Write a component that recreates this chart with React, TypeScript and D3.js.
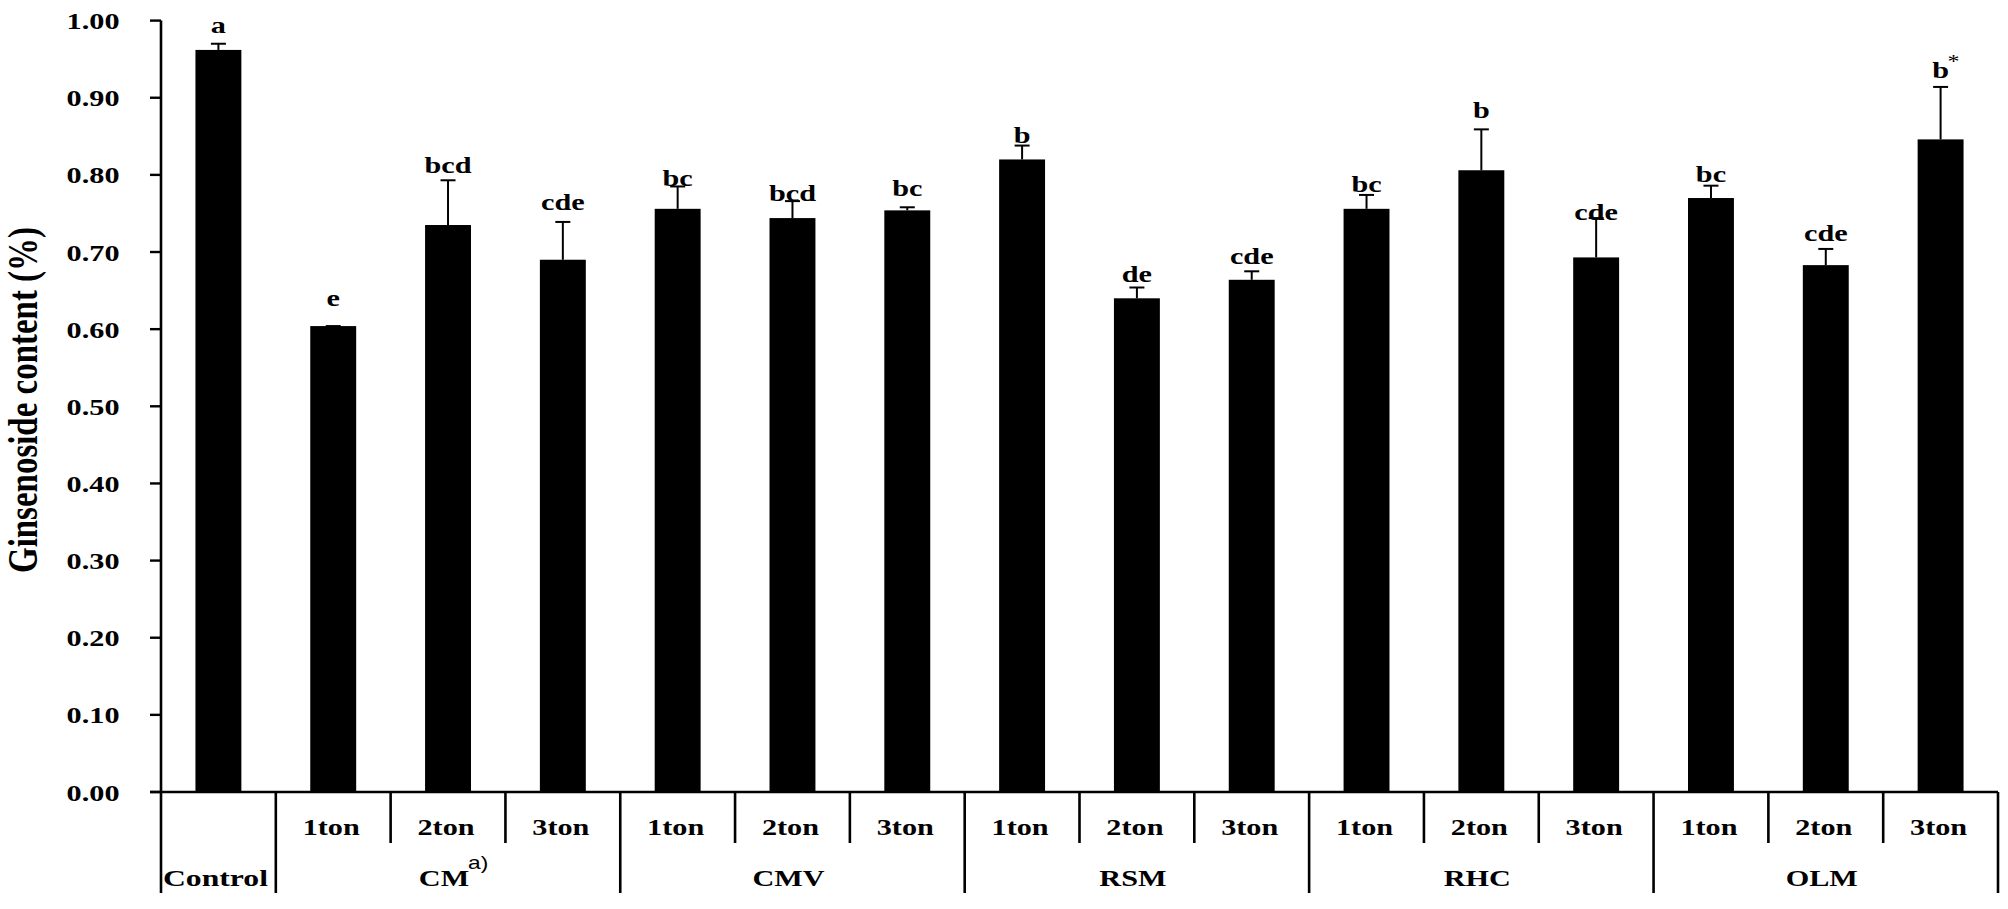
import React from "react";
import * as d3 from "d3";

// ---- data ----
const treatments = ["Control", "CM", "CM", "CM", "CMV", "CMV", "CMV", "RSM", "RSM", "RSM", "RHC", "RHC", "RHC", "OLM", "OLM", "OLM"];
const doses = ["", "1ton", "2ton", "3ton", "1ton", "2ton", "3ton", "1ton", "2ton", "3ton", "1ton", "2ton", "3ton", "1ton", "2ton", "3ton"];
const means = [0.962, 0.604, 0.735, 0.690, 0.756, 0.744, 0.754, 0.820, 0.640, 0.664, 0.756, 0.806, 0.693, 0.770, 0.683, 0.846];
const errors = [0.008, 0.0, 0.058, 0.049, 0.029, 0.022, 0.004, 0.018, 0.014, 0.011, 0.018, 0.053, 0.051, 0.016, 0.021, 0.068];
const letters = ["a", "e", "bcd", "cde", "bc", "bcd", "bc", "b", "de", "cde", "bc", "b", "cde", "bc", "cde", "b"];
const letterMarks = ["", "", "", "", "", "", "", "", "", "", "", "", "", "", "", "*"];
const letterLevels = [0.984, 0.6305, 0.8018, 0.7543, 0.7858, 0.7664, 0.7724, 0.8415, 0.6614, 0.6843, 0.778, 0.8731, 0.7413, 0.791, 0.7145, 0.925];
const groups = ["Control", "CM", "CMV", "RSM", "RHC", "OLM"];
const groupNotes = ["", "a)", "", "", "", ""];
const yTicks = [0, 0.1, 0.2, 0.3, 0.4, 0.5, 0.6, 0.7, 0.8, 0.9, 1.0];
const yTitle = "Ginsenoside content (%)";

// ---- layout ----
const W = 2008;
const H = 909;
const SX = 1.26; // horizontal stretch of the original picture
const X0 = 161;
const X1 = 1998;
const Y_BASE = 792;
const Y_TOP = 20.6;
const SHORT_BOT = 843;
const LONG_BOT = 893;
const SERIF = "'Liberation Serif', 'Times New Roman', serif";

const idx = means.map((_, i) => i);
const x = d3.scaleBand<number>().domain(idx).range([X0, X1]).paddingInner(0).paddingOuter(0);
const y = d3.scaleLinear().domain([0, 1]).range([Y_BASE, Y_TOP]);
const barW = x.bandwidth() * 0.4;
const capW = 15;

function T(props: {
  x: number; y: number; anchor?: string; size: number; weight?: string; family?: string;
  len?: number; children: React.ReactNode;
}) {
  const { anchor = "middle", weight = "bold", family = SERIF } = props;
  return (
    <text
      transform={`translate(${props.x},${props.y}) scale(${SX},1)`}
      textAnchor={anchor}
      fontSize={props.size}
      fontWeight={weight}
      fontFamily={family}
      fill="#000"
      {...(props.len ? { textLength: props.len, lengthAdjust: "spacingAndGlyphs" } : {})}
    >
      {props.children}
    </text>
  );
}

export default function App() {
  // group spans
  const spans: { name: string; note: string; start: number; end: number }[] = [];
  treatments.forEach((t, i) => {
    const last = spans[spans.length - 1];
    if (last && last.name === t) last.end = i;
    else spans.push({ name: t, note: groupNotes[groups.indexOf(t)], start: i, end: i });
  });
  const boundaries: { xpos: number; long: boolean }[] = [];
  for (let i = 1; i < idx.length; i++) {
    const xpos = x(i)!;
    boundaries.push({ xpos, long: treatments[i] !== treatments[i - 1] });
  }

  return (
    <svg width={W} height={H} style={{ position: "absolute", left: 0, top: 0, background: "#fff" }}>
      <rect x={0} y={0} width={W} height={H} fill="#fff" />
      {/* y axis title */}
      <text
        transform={`translate(37,400) scale(${SX},1) rotate(-90)`}
        textAnchor="middle"
        fontSize={34}
        fontWeight="bold"
        fontFamily={SERIF}
        textLength={346}
        lengthAdjust="spacingAndGlyphs"
      >
        {yTitle}
      </text>
      {/* y ticks */}
      {yTicks.map((t) => (
        <g key={t}>
          <line x1={X0 - 11} x2={X0} y1={y(t)} y2={y(t)} stroke="#000" strokeWidth={2.4} />
          <T x={119.5} y={y(t) + 8.5} anchor="end" size={24}>
            {t.toFixed(2)}
          </T>
        </g>
      ))}
      {/* bars */}
      {idx.map((i) => {
        const cx = x(i)! + x.bandwidth() / 2;
        return (
          <g key={i}>
            <rect x={cx - barW / 2} y={y(means[i])} width={barW} height={Y_BASE - y(means[i])} fill="#000" />
            <line x1={cx} x2={cx} y1={y(means[i])} y2={y(means[i] + errors[i])} stroke="#000" strokeWidth={2} />
            <line x1={cx - capW / 2} x2={cx + capW / 2} y1={y(means[i] + errors[i])} y2={y(means[i] + errors[i])} stroke="#000" strokeWidth={2} />
            <T x={cx} y={y(letterLevels[i])} size={24}>
              {letters[i]}
            </T>
            {letterMarks[i] && (
              <T x={cx + 7} y={y(letterLevels[i]) - 10} anchor="start" size={19} weight="normal">
                {letterMarks[i]}
              </T>
            )}
          </g>
        );
      })}
      {/* axes */}
      <line x1={X0} x2={X0} y1={Y_TOP} y2={LONG_BOT} stroke="#000" strokeWidth={2.6} />
      <line x1={X0 - 11} x2={X1} y1={Y_BASE} y2={Y_BASE} stroke="#000" strokeWidth={2.6} />
      <line x1={X1} x2={X1} y1={Y_BASE} y2={LONG_BOT} stroke="#000" strokeWidth={2.6} />
      {boundaries.map((b, k) => (
        <line key={k} x1={b.xpos} x2={b.xpos} y1={Y_BASE} y2={b.long ? LONG_BOT : SHORT_BOT} stroke="#000" strokeWidth={2.6} />
      ))}
      {/* dose labels */}
      {idx.map((i) =>
        doses[i] ? (
          <T key={"d" + i} x={x(i)! + x.bandwidth() / 2 - 2} y={835} size={24}>
            {doses[i]}
          </T>
        ) : null
      )}
      {/* group labels */}
      {spans.map((s) => {
        const a = x(s.start)!;
        const b = x(s.end)! + x.bandwidth();
        if (s.start === s.end) {
          return (
            <T key={s.name} x={a + 2} y={886} anchor="start" size={24} len={105 / SX}>
              {s.name}
            </T>
          );
        }
        const cx = (a + b) / 2 - 4;
        return (
          <g key={s.name}>
            <T x={cx} y={886} size={24}>
              {s.name}
            </T>
            {s.note && (
              <T x={cx + 24} y={869} anchor="start" size={18} weight="normal" family="'Liberation Sans', Arial, sans-serif">
                {s.note}
              </T>
            )}
          </g>
        );
      })}
    </svg>
  );
}
